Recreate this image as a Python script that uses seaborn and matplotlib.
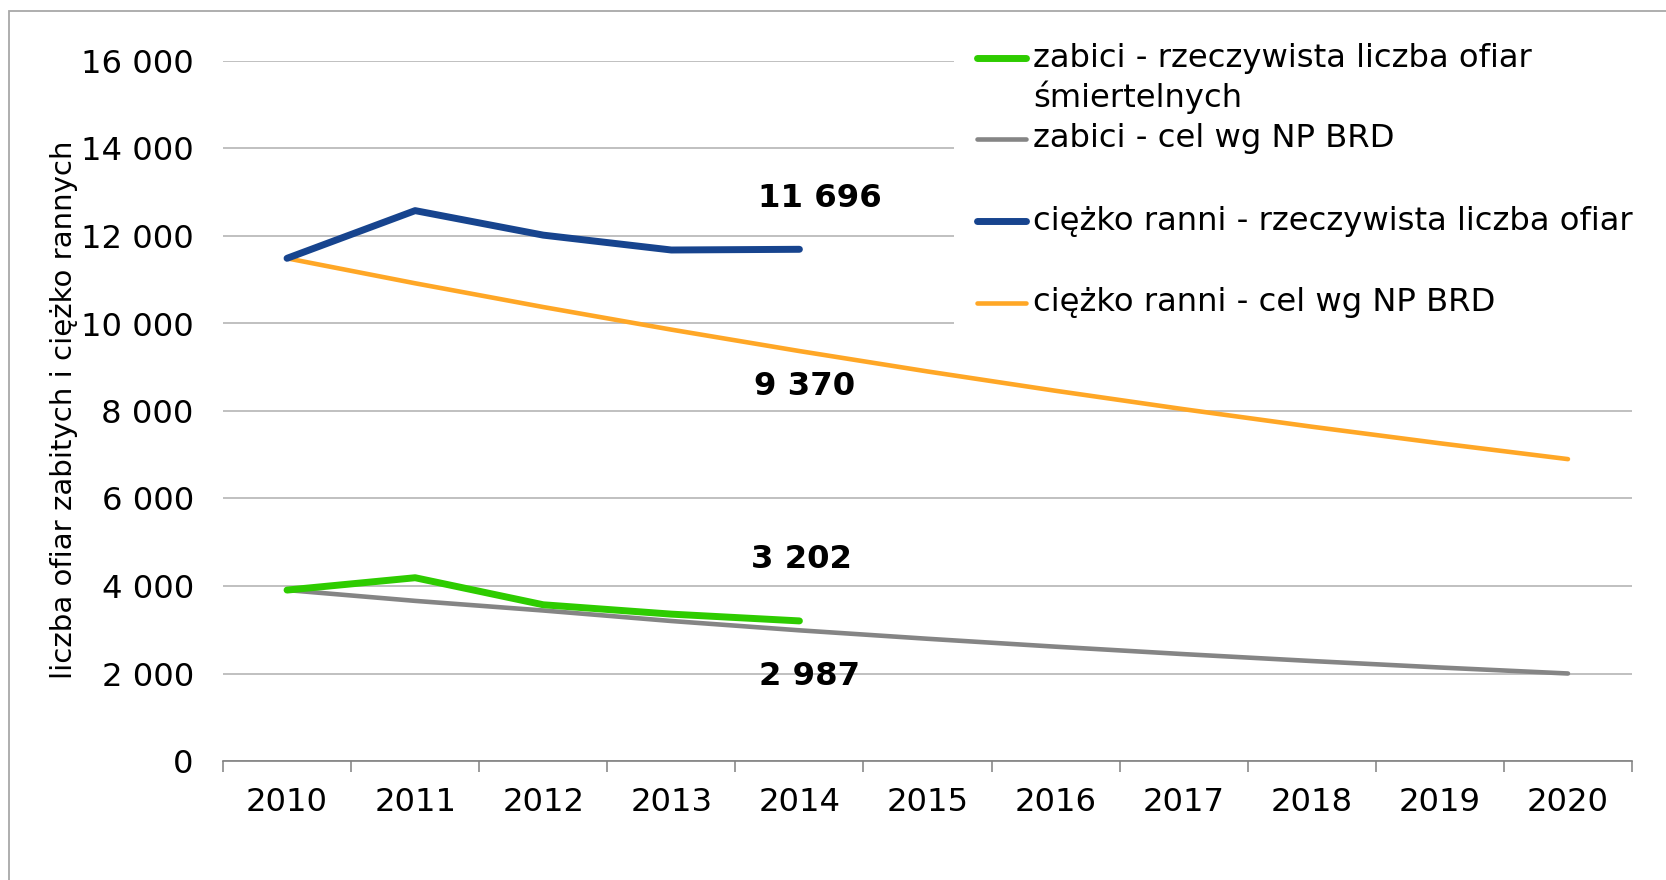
import matplotlib
matplotlib.use("Agg")
import matplotlib.pyplot as plt
import seaborn as sns
import pandas as pd
import numpy as np
from matplotlib.lines import Line2D
from matplotlib.patches import Rectangle
from matplotlib.ticker import FuncFormatter

# ---- data ----
years = list(range(2010, 2021))
years_actual = list(range(2010, 2015))
killed_actual = [3907, 4189, 3571, 3357, 3202]
killed_target = [3907, 3660, 3440, 3200, 2987, 2794, 2613, 2443, 2285, 2137, 2000]
injured_actual = [11490, 12580, 12020, 11680, 11696]
injured_target = [11490, 10919, 10376, 9860, 9370, 8904, 8462, 8041, 7641, 7262, 6900]
legend_labels = [
    "zabici - rzeczywista liczba ofiar\nśmiertelnych",
    "zabici - cel wg NP BRD",
    "ciężko ranni - rzeczywista liczba ofiar",
    "ciężko ranni - cel wg NP BRD",
]
ylabel = "liczba ofiar zabitych i ciężko rannych"
annotated = [(2014, 11696, 20, 51), (2014, 9370, 5, -35), (2014, 3202, 2, 61), (2014, 2987, 10, -46)]

GREEN = "#2ecc00"
GREY = "#858585"
BLUE = "#17448e"
ORANGE = "#ffa726"
FS = 23.2

sns.set_theme(style="white")
plt.rcParams["font.family"] = ["DejaVu Sans"]

W, H = 1666, 880
fig = plt.figure(figsize=(W / 100, H / 100), dpi=100)
fig.patch.set_facecolor("white")

def fx(p):
    return p / W

def fy(p):
    return 1 - p / H

ax = fig.add_axes([fx(223), fy(761), (1632 - 223) / W, (761 - 61) / H])

sns.lineplot(x=years_actual, y=killed_actual, ax=ax, color=GREEN, linewidth=5.0,
             solid_capstyle="round", zorder=4)
sns.lineplot(x=years, y=killed_target, ax=ax, color=GREY, linewidth=3.3,
             solid_capstyle="round", zorder=3)
sns.lineplot(x=years_actual, y=injured_actual, ax=ax, color=BLUE, linewidth=5.0,
             solid_capstyle="round", zorder=4)
sns.lineplot(x=years, y=injured_target, ax=ax, color=ORANGE, linewidth=3.3,
             solid_capstyle="round", zorder=3)

ax.set_xlim(2009.5, 2020.5)
ax.set_ylim(0, 16000)
ax.set_yticks(range(0, 16001, 2000))
ax.yaxis.set_major_formatter(FuncFormatter(lambda v, p: f"{int(v):,}".replace(",", " ")))
ax.set_xticks(years)
ax.set_xticklabels([str(y) for y in years])
ax.set_xticks(np.arange(2009.5, 2021, 1.0), minor=True)
ax.yaxis.grid(True, color="#b5b5b5", linewidth=1.2)
ax.xaxis.grid(False)
ax.set_axisbelow(True)
for s in ["left", "top", "right"]:
    ax.spines[s].set_visible(False)
ax.spines["bottom"].set_color("#808080")
ax.spines["bottom"].set_linewidth(1.2)
ax.tick_params(axis="y", length=0, pad=21, labelsize=FS, labelcolor="black")
ax.tick_params(axis="x", which="major", length=0, pad=19, labelsize=FS, labelcolor="black")
ax.tick_params(axis="x", which="minor", bottom=True, length=8, width=1.1, color="#808080", direction="out")
ax.set_xlabel("")
ax.set_ylabel("")

fig.text(fx(64), fy(410), ylabel, rotation=90, ha="center", va="center", fontsize=21.1, color="black")

for x, v, dx, dy in annotated:
    ax.annotate(f"{v:,}".replace(",", " "), xy=(x, v), xytext=(dx, dy), textcoords="offset pixels",
                ha="center", va="center", fontsize=FS, fontweight="bold", color="black", zorder=6)

# legend background (covers gridlines)
fig.add_artist(Rectangle((fx(954), fy(338)), fx(1660) - fx(954), fy(22) - fy(338),
                         transform=fig.transFigure, facecolor="white", edgecolor="none", zorder=2))
handles = [(GREEN, 5.0, 58), (GREY, 3.3, 139), (BLUE, 5.0, 221), (ORANGE, 3.3, 303)]
for (c, lw, yy), lab in zip(handles, legend_labels):
    fig.add_artist(Line2D([fx(977), fx(1026)], [fy(yy), fy(yy)], transform=fig.transFigure,
                          color=c, linewidth=lw, solid_capstyle="round", zorder=3))
    fig.text(fx(1033), fy(yy), lab.split("\n")[0], ha="left", va="center", fontsize=FS,
             color="black", zorder=3)
    if "\n" in lab:
        fig.text(fx(1033), fy(yy + 39), lab.split("\n")[1], ha="left", va="center", fontsize=FS,
                 color="black", zorder=3)

# outer frame
fig.add_artist(Rectangle((fx(9), fy(895)), fx(1700) - fx(9), fy(11) - fy(895),
                         transform=fig.transFigure, facecolor="none", edgecolor="#a8a8a8",
                         linewidth=1.3, zorder=1))

fig.savefig("out.png", dpi=100, facecolor="white")
